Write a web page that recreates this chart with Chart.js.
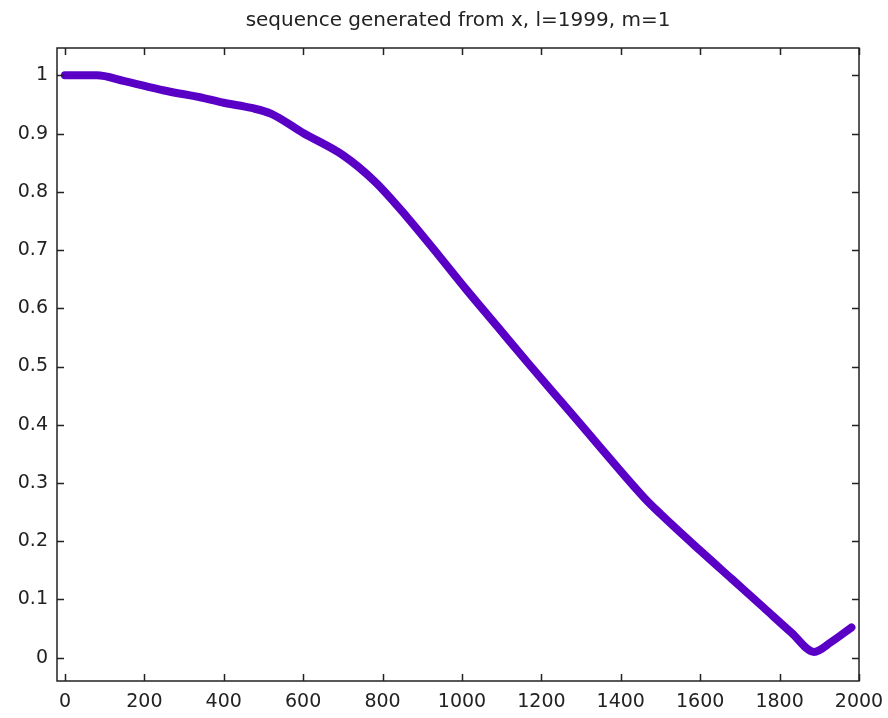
<!DOCTYPE html>
<html>
<head>
<meta charset="utf-8">
<script src="https://cdn.jsdelivr.net/npm/chart.js@4/dist/chart.umd.min.js"></script>
<style>
  html, body { margin: 0; padding: 0; background: #fff; }
  #holder { width: 888px; height: 718px; }
</style>
</head>
<body>
<div id="holder"><canvas id="myChart"></canvas></div>
<script>
// values
var xs = [0, 80, 150, 250, 350, 400, 470, 520, 600, 700, 780, 860, 940, 1010, 1090,
          1170, 1270, 1350, 1460, 1500, 1600, 1680, 1760, 1830, 1887, 1930, 1981];
var ys = [1.000, 1.000, 0.990, 0.974, 0.961, 0.953, 0.944, 0.934, 0.901, 0.863, 0.818, 0.758, 0.692, 0.633, 0.568,
          0.503, 0.424, 0.360, 0.274, 0.247, 0.184, 0.135, 0.086, 0.043, 0.010, 0.027, 0.052];
var xTicks = [0, 200, 400, 600, 800, 1000, 1200, 1400, 1600, 1800, 2000];
var yTicks = [0, 0.1, 0.2, 0.3, 0.4, 0.5, 0.6, 0.7, 0.8, 0.9, 1];
var titulo = 'sequence generated from x, l=1999, m=1';

var puntos = xs.map(function (x, i) { return { x: x, y: ys[i] }; });

// matlab style box with inward ticks on all sides
var cajaPlugin = {
  id: 'caja',
  afterDraw: function (chart) {
    var ctx = chart.ctx;
    var a = chart.chartArea;
    var sx = chart.scales.x, sy = chart.scales.y;
    var len = 7;
    ctx.save();
    ctx.strokeStyle = '#222';
    ctx.lineWidth = 1.5;
    ctx.strokeRect(a.left, a.top, a.right - a.left, a.bottom - a.top);
    ctx.beginPath();
    xTicks.forEach(function (v) {
      var p = Math.round(sx.getPixelForValue(v)) + 0.5;
      ctx.moveTo(p, a.bottom); ctx.lineTo(p, a.bottom - len);
      ctx.moveTo(p, a.top); ctx.lineTo(p, a.top + len);
    });
    yTicks.forEach(function (v) {
      var p = Math.round(sy.getPixelForValue(v)) + 0.5;
      ctx.moveTo(a.left, p); ctx.lineTo(a.left + len, p);
      ctx.moveTo(a.right, p); ctx.lineTo(a.right - len, p);
    });
    ctx.stroke();
    ctx.restore();
  }
};

var fuente = 'DejaVu Sans, Verdana, sans-serif';
var ctx = document.getElementById('myChart').getContext('2d');

var config = {
  type: 'line',
  data: {
    datasets: [{
      data: puntos,
      borderColor: '#5a00c6',
      borderWidth: 8,
      pointRadius: 0,
      fill: false,
      cubicInterpolationMode: 'monotone',
      borderCapStyle: 'round',
      borderJoinStyle: 'round'
    }]
  },
  options: {
    responsive: true,
    maintainAspectRatio: false,
    animation: false,
    layout: { padding: { left: 0, right: 29, top: 0, bottom: 0 } },
    plugins: {
      legend: { display: false },
      tooltip: { enabled: false },
      title: {
        display: true,
        fullSize: false,
        text: titulo,
        color: '#222',
        font: { family: fuente, size: 20, weight: 'normal' },
        padding: { top: 9, bottom: 15 }
      }
    },
    scales: {
      x: {
        type: 'linear',
        min: -20,
        max: 2000,
        afterBuildTicks: function (s) { s.ticks = xTicks.map(function (v) { return { value: v }; }); },
        afterFit: function (s) { s.height = 37; s.paddingRight = 0; s.paddingLeft = 0; },
        grid: { display: false, drawTicks: false },
        border: { display: false },
        ticks: {
          color: '#222',
          padding: 10,
          maxRotation: 0,
          autoSkip: false,
          font: { family: fuente, size: 19 },
          callback: function (v) { return String(v); }
        }
      },
      y: {
        type: 'linear',
        min: -0.04,
        max: 1.047,
        afterBuildTicks: function (s) { s.ticks = yTicks.map(function (v) { return { value: v }; }); },
        afterFit: function (s) { s.width = 57; },
        grid: { display: false, drawTicks: false },
        border: { display: false },
        ticks: {
          color: '#222',
          padding: 9,
          autoSkip: false,
          font: { family: fuente, size: 19 },
          callback: function (v) { return String(Math.round(v * 10) / 10); }
        }
      }
    }
  },
  plugins: [cajaPlugin]
};

window.grafico = new Chart(ctx, config);
</script>
</body>
</html>
